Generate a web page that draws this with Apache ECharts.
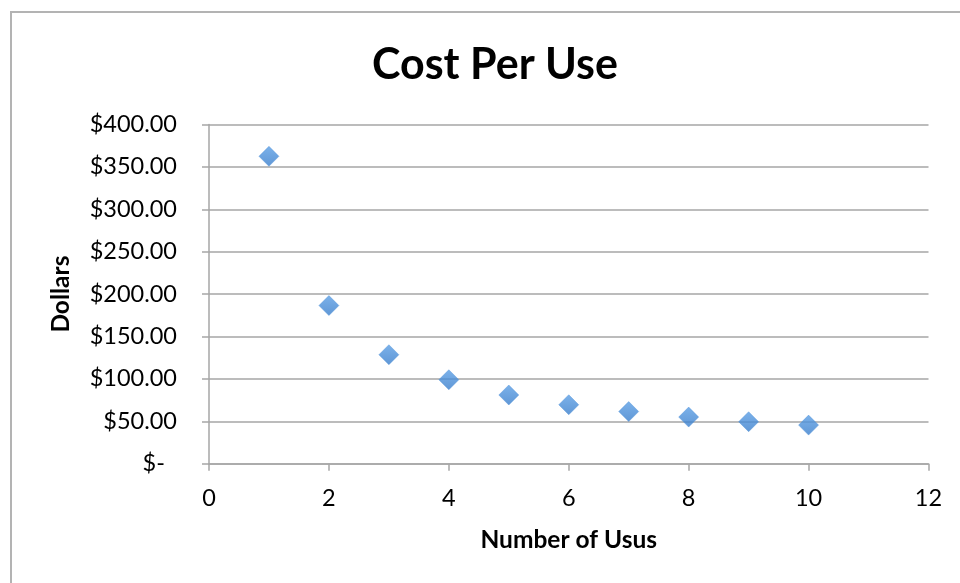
<!DOCTYPE html>
<html>
<head>
<meta charset="utf-8">
<script src="https://cdn.jsdelivr.net/npm/echarts@6/dist/echarts.min.js"></script>
<style>
  html, body { margin: 0; padding: 0; background: #fff; }
  #chart { width: 960px; height: 583px; }
</style>
</head>
<body>
<div id="chart"></div>
<script>
// Number of uses and the resulting cost per use (dollars)
const uses = [1, 2, 3, 4, 5, 6, 7, 8, 9, 10];
const costPerUse = [362.5, 186.5, 128.5, 99, 81, 69.5, 61.5, 55, 49.5, 45.5];

// Axis settings
const xTicks = [0, 2, 4, 6, 8, 10, 12];
const yTicks = [0, 50, 100, 150, 200, 250, 300, 350, 400];

const FONT = 'Lato, "Open Sans", sans-serif';
const GRID_GRAY = '#a6a6a6';

const chart = echarts.init(document.getElementById('chart'), null, { renderer: 'canvas' });

const option = {
  backgroundColor: '#ffffff',
  animation: false,
  title: {
    text: 'Cost Per Use',
    left: 490,
    textAlign: 'center',
    top: 39,
    textStyle: { fontFamily: FONT, fontWeight: 'bold', fontSize: 43, color: '#000' }
  },
  graphic: [{
    type: 'rect',
    shape: { x: 11, y: 12, width: 1200, height: 1200 },
    style: { fill: null, stroke: '#b3b3b3', lineWidth: 2 },
    silent: true
  }],
  grid: { left: 209, right: 31.5, top: 124.5, bottom: 119.3, containLabel: false },
  xAxis: {
    type: 'value',
    min: xTicks[0],
    max: xTicks[xTicks.length - 1],
    interval: 2,
    name: 'Number of Usus',
    nameLocation: 'middle',
    nameGap: 64,
    nameTextStyle: { fontFamily: FONT, fontWeight: 'bold', fontSize: 24.5, color: '#000' },
    axisLine: { show: true, lineStyle: { color: GRID_GRAY, width: 1.5 } },
    axisTick: { show: true, inside: false, length: 7, lineStyle: { color: GRID_GRAY, width: 1.5 } },
    axisLabel: { margin: 23, fontFamily: FONT, fontSize: 23.5, color: '#000' },
    splitLine: { show: false }
  },
  yAxis: {
    type: 'value',
    min: yTicks[0],
    max: yTicks[yTicks.length - 1],
    interval: 50,
    name: 'Dollars',
    nameLocation: 'middle',
    nameGap: 135,
    nameRotate: 90,
    nameTextStyle: { fontFamily: FONT, fontWeight: 'bold', fontSize: 24.5, color: '#000' },
    axisLine: { show: true, lineStyle: { color: GRID_GRAY, width: 1.5 } },
    axisTick: { show: true, inside: false, length: 7, lineStyle: { color: GRID_GRAY, width: 1.5 } },
    axisLabel: {
      margin: 32,
      fontFamily: FONT,
      fontSize: 23.5,
      color: '#000',
      // accounting style: zero shown as "$-"
      formatter: v => v === 0 ? '$-  ' : '$' + v.toFixed(2)
    },
    splitLine: { show: true, lineStyle: { color: GRID_GRAY, width: 1.5 } }
  },
  series: [{
    type: 'scatter',
    symbol: 'diamond',
    symbolSize: 20,
    data: uses.map((u, i) => [u, costPerUse[i]]),
    itemStyle: {
      color: new echarts.graphic.LinearGradient(0, 0, 0, 1, [
        { offset: 0, color: '#5a9ee5' },
        { offset: 1, color: '#387dcb' }
      ]),
      borderColor: '#4d90d9',
      borderWidth: 0.5
    }
  }]
};

chart.setOption(option);
</script>
</body>
</html>
